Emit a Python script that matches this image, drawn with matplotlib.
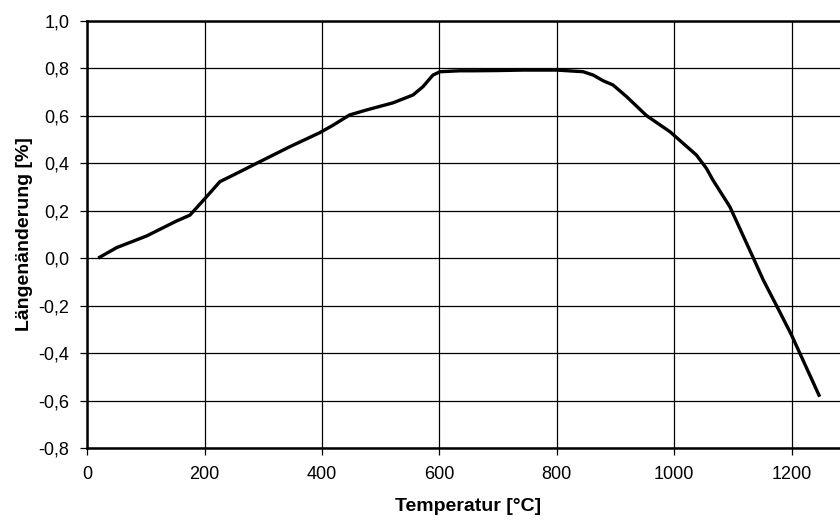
import matplotlib
matplotlib.use("Agg")
import matplotlib.pyplot as plt
from matplotlib.ticker import FuncFormatter

# Dilatometer curve: temperature (°C) vs. length change (%)
temperatur = [18.7, 50, 101, 152, 175, 198, 226, 249, 294, 345, 396, 419, 447,
              476, 521, 555, 572, 589, 601, 635, 658, 700, 743, 800, 845, 862,
              879, 896, 919, 953, 993, 1038, 1055, 1066, 1095, 1135, 1152,
              1174, 1200, 1248]
laengenaenderung = [0.0, 0.044, 0.093, 0.156, 0.181, 0.244, 0.322, 0.35, 0.406,
                    0.469, 0.528, 0.56, 0.603, 0.624, 0.654, 0.687, 0.722,
                    0.771, 0.785, 0.789, 0.789, 0.790, 0.792, 0.792, 0.785,
                    0.771, 0.747, 0.729, 0.68, 0.60, 0.532, 0.434, 0.378,
                    0.329, 0.216, 0.0, -0.093, -0.198, -0.324, -0.584]

x_ticks = [0, 200, 400, 600, 800, 1000, 1200]
y_ticks = [-0.8, -0.6, -0.4, -0.2, 0.0, 0.2, 0.4, 0.6, 0.8, 1.0]

plt.rcParams["font.family"] = ["Liberation Sans", "DejaVu Sans"]

fig = plt.figure(figsize=(8.4, 5.2), dpi=100)
# the plot area runs on past the right edge of the canvas (x up to 1400)
ax = fig.add_axes([0.1039, 0.1385, 0.9781, 0.8217])

ax.plot(temperatur, laengenaenderung, color="black", lw=2.4,
        solid_joinstyle="round", solid_capstyle="butt", zorder=3)

ax.set_xlim(0, 1400)
ax.set_ylim(-0.8, 1.0)
ax.set_xticks(x_ticks)
ax.set_yticks(y_ticks)
ax.yaxis.set_major_formatter(FuncFormatter(lambda v, p: f"{v:.1f}".replace(".", ",")))
ax.xaxis.set_major_formatter(FuncFormatter(lambda v, p: f"{v:.0f}"))

ax.grid(True, color="black", lw=0.9, zorder=1)
ax.tick_params(axis="both", direction="out", length=5, width=0.9,
               labelsize=13, colors="black", pad=8)
for side in ("left", "top", "bottom"):
    ax.spines[side].set_linewidth(1.8)
ax.spines["right"].set_visible(False)

ax.set_xlabel("Temperatur [°C]", fontsize=14, fontweight="bold")
ax.xaxis.set_label_coords(0.463, -0.118)
ax.set_ylabel("Längenänderung [%]", fontsize=14, fontweight="bold", labelpad=4)

fig.savefig("out.png", dpi=100)
